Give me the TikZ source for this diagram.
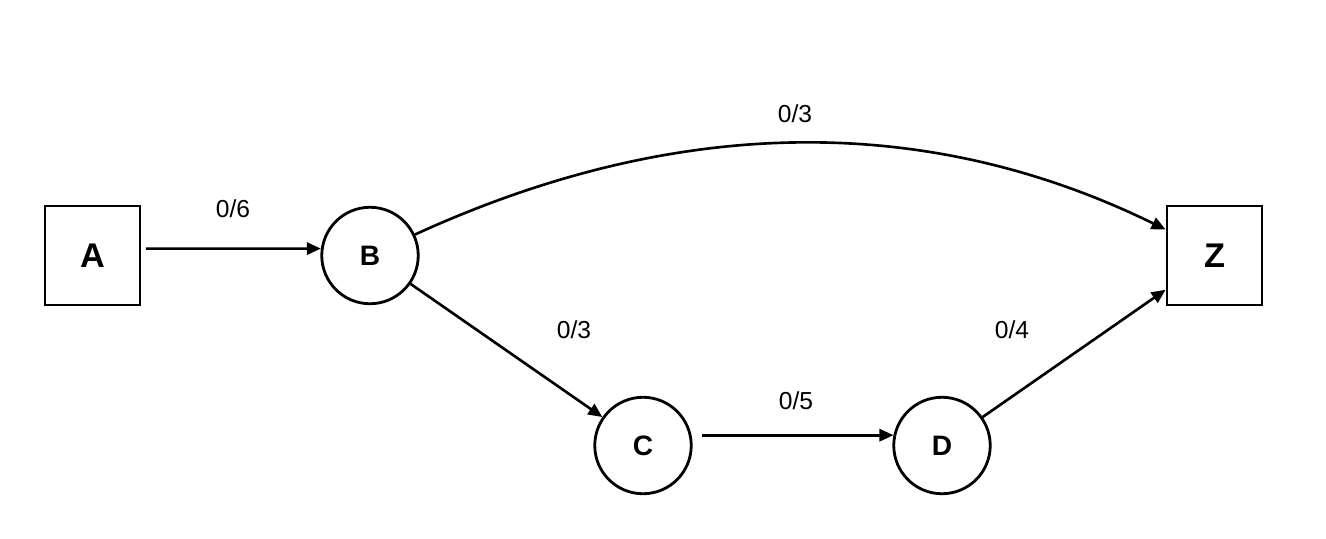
\documentclass[tikz,border=0pt]{standalone}
\usepackage{fontspec}
\setmainfont{Liberation Sans}
\usetikzlibrary{arrows.meta}

\begin{document}
\begin{tikzpicture}[x=0.02cm,y=-0.02cm,
		terminal/.style={draw,line width=1.6pt,minimum width=1.9cm,minimum height=1.98cm,font=\bfseries\fontsize{19.5}{22}\selectfont},
		inner/.style={draw,circle,line width=1.6pt,minimum size=1.93cm,font=\bfseries\fontsize{16}{19}\selectfont},
		flow/.style={line width=1.5pt,-{Triangle[length=8pt,width=7pt]}},
		weight/.style={font=\fontsize{14}{16}\selectfont}]
		\useasboundingbox (0,0) rectangle (1326,538);
		% vertices
		\node[terminal] (A) at (92.5,255.5) {A};
		\node[inner] (B) at (370,255.5) {B};
		\node[inner] (C) at (643,445.5) {C};
		\node[inner] (D) at (942,445.5) {D};
		\node[terminal] (Z) at (1214.5,255.5) {Z};
		% arcs
		\draw[flow,shorten <=2.5pt] (A.8) -- (B.172);
		\draw[flow] (B.25) .. controls (678,114) and (928,113) .. (Z.152);
		\draw[flow] (B.-35) -- (C.145);
		\draw[flow,shorten <=6pt] (C.12) -- (D.168);
		\draw[flow] (D.35) -- (Z.215);
		% capacities
		\node[weight] (ab) at (233,209) {0/6};
		\node[weight] (bz) at (795,114) {0/3};
		\node[weight] (bc) at (574,330) {0/3};
		\node[weight] (cd) at (796,401) {0/5};
		\node[weight] (dz) at (1012,330) {0/4};
	\end{tikzpicture}
\end{document}
